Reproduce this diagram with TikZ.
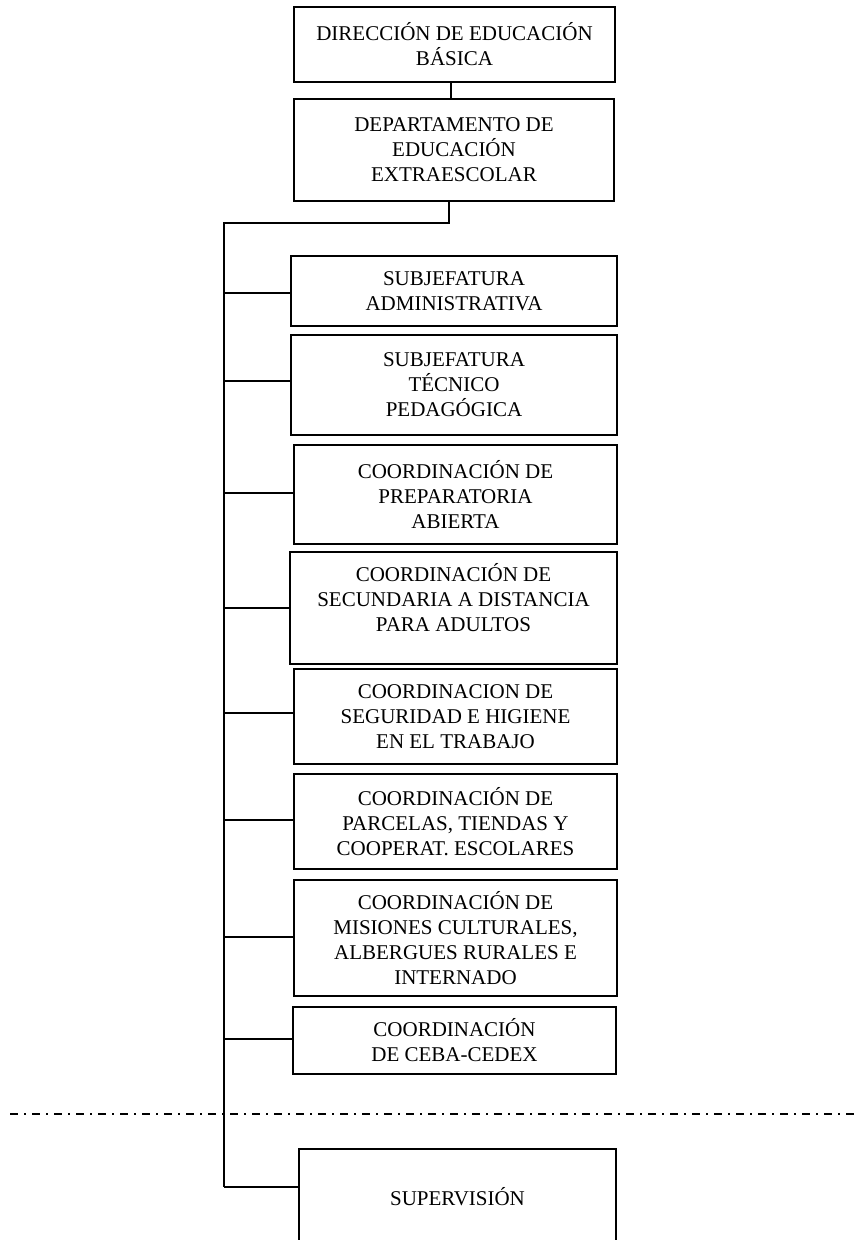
\documentclass[tikz,border=0pt]{standalone}
\usepackage{fontspec}
\setmainfont{Liberation Serif}
\begin{document}
\begin{tikzpicture}[x=1pt,y=-1pt,
  orgbox/.style={draw, line width=2pt, inner sep=0pt, align=center,
    font=\fontsize{21}{25}\selectfont},
  link/.style={line width=2pt},
  sepline/.style={line width=2pt, dash pattern=on 8pt off 6pt on 2pt off 6pt}]
\useasboundingbox (0,0) rectangle (854,1240);
\clip (0,0) rectangle (854,1240);

\node[orgbox, minimum width=321pt, minimum height=75pt] (b1) at (454.5,44.5)
  {DIRECCIÓN DE EDUCACIÓN\\BÁSICA};
\node[orgbox, minimum width=320pt, minimum height=102pt] (b2) at (454,150)
  {DEPARTAMENTO DE\\EDUCACIÓN\\EXTRAESCOLAR};
\node[orgbox, minimum width=326pt, minimum height=70pt] (b3) at (454,291)
  {SUBJEFATURA\\ADMINISTRATIVA};
\node[orgbox, minimum width=326pt, minimum height=100pt] (b4) at (454,385)
  {SUBJEFATURA\\TÉCNICO\\PEDAGÓGICA};
\node[orgbox, minimum width=323pt, minimum height=99pt] (b5) at (455.5,494.5)
  {COORDINACIÓN DE\\PREPARATORIA\\ABIERTA};
\node[orgbox, minimum width=327pt, minimum height=112pt] (b6) at (453.5,608)
  {COORDINACIÓN DE\\SECUNDARIA A DISTANCIA\\PARA ADULTOS\\[-4pt]\mbox{}};
\node[orgbox, minimum width=323pt, minimum height=95pt] (b7) at (455.5,716.5)
  {COORDINACION DE\\SEGURIDAD E HIGIENE\\EN EL TRABAJO};
\node[orgbox, minimum width=323pt, minimum height=95pt] (b8) at (455.5,821.5)
  {COORDINACIÓN DE\\PARCELAS, TIENDAS Y\\COOPERAT. ESCOLARES};
\node[orgbox, minimum width=323pt, minimum height=116pt] (b9) at (455.5,938)
  {COORDINACIÓN DE\\MISIONES CULTURALES,\\ALBERGUES RURALES E\\INTERNADO};
\node[orgbox, minimum width=323pt, minimum height=67pt] (b10) at (454.5,1040.5)
  {COORDINACIÓN\\DE CEBA-CEDEX};
\node[orgbox, minimum width=317pt, minimum height=96pt] (b11) at (457.5,1197)
  {SUPERVISIÓN};

\coordinate (c1) at (451,0);
\coordinate (c2) at (449,223);
\coordinate (ttop) at (224,223);
\coordinate (tbot) at (224,1187);

\draw[link] (b1.south -| c1) -- (b2.north -| c1);
\draw[link] (b2.south -| c2) -- (c2) -- (ttop) -- (tbot);
\foreach \b/\yy in {b3/293,b4/381,b5/493,b6/608,b7/713,b8/820,b9/937,b10/1039}
  \draw[link] (224,\yy) -- (\b.west |- 0,\yy);
\draw[link] (tbot) -- (tbot -| b11.west);

\coordinate (d1) at (10,1114);
\coordinate (d2) at (854,1114);
\draw[sepline] (d1) -- (d2);
\end{tikzpicture}
\end{document}
